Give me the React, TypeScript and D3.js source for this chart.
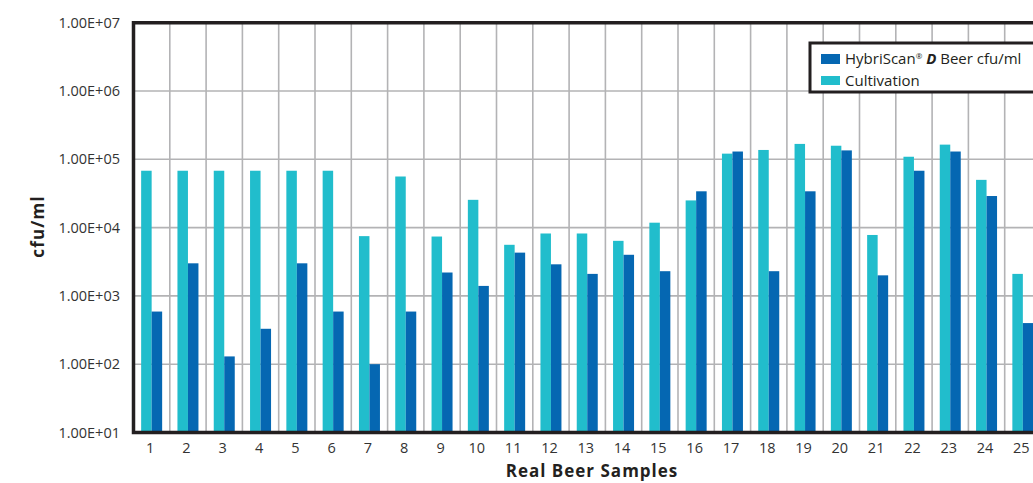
import React from "react";
import * as d3 from "d3";

const samples = ["1","2","3","4","5","6","7","8","9","10","11","12","13","14","15","16","17","18","19","20","21","22","23","24","25"];
const hybriscan = [590, 3000, 130, 330, 3000, 590, 100, 590, 2200, 1400, 4300, 2900, 2100, 4000, 2300, 34000, 130000, 2300, 34000, 135000, 2000, 68000, 130000, 29000, 400];
const cultivation = [68000, 68000, 68000, 68000, 68000, 68000, 7500, 56000, 7400, 25500, 5600, 8200, 8200, 6400, 11800, 25000, 121000, 137000, 168000, 158000, 7800, 109000, 164000, 50000, 2100];
const yTickValues = [1e1, 1e2, 1e3, 1e4, 1e5, 1e6, 1e7];
const yTickLabels = ["1.00E+01","1.00E+02","1.00E+03","1.00E+04","1.00E+05","1.00E+06","1.00E+07"];
const seriesKeys = ["Cultivation", "HybriScan"];

const W = 1033, H = 483;
const left = 133.5, top = 22.7, bottom = 432.5;
const band = 36.3;
const right = left + band * samples.length;
const CYAN = "#21bdcc", BLUE = "#0567b2", FRAME = "#231f20", GRID = "#b3b3b5";
const FONT = "'Open Sans', 'Liberation Sans', sans-serif";

export default function App() {
  const x = d3.scaleBand<string>().domain(samples).range([left, right]).paddingInner(0).paddingOuter(0);
  const xs = d3.scaleBand<string>().domain(seriesKeys).range([0, 21]);
  const y = d3.scaleLog().domain([1e1, 1e7]).range([bottom, top]);
  const bw = xs.bandwidth();
  const off = (x.bandwidth() - 21) / 2;

  return (
    <svg width={W} height={H} style={{ position: "absolute", left: 0, top: 0, background: "#fff" }} fontFamily={FONT}>
      <rect x={0} y={0} width={W} height={H} fill="#fff" />
      {/* vertical grid */}
      {samples.map((s, i) => i > 0 ? (
        <line key={"vg" + s} x1={x(s)!} x2={x(s)!} y1={top} y2={bottom} stroke={GRID} strokeWidth={1.6} />
      ) : null)}
      {/* horizontal grid */}
      {yTickValues.map((v) => (
        <line key={"hg" + v} x1={left} x2={right} y1={y(v)} y2={y(v)} stroke={GRID} strokeWidth={1.6} />
      ))}
      {/* bars */}
      {samples.map((s, i) => (
        <g key={"b" + s}>
          <rect x={x(s)! + off + xs("Cultivation")!} y={y(cultivation[i])} width={bw} height={bottom - y(cultivation[i])} fill={CYAN} />
          <rect x={x(s)! + off + xs("HybriScan")!} y={y(hybriscan[i])} width={bw} height={bottom - y(hybriscan[i])} fill={BLUE} />
        </g>
      ))}
      {/* frame */}
      <path d={`M${right},${top} H${left} V${bottom} H${right}`} fill="none" stroke={FRAME} strokeWidth={3.5} />
      {/* y tick labels */}
      {yTickValues.map((v, i) => (
        <text key={"yl" + v} x={120} y={y(v)} dy="0.35em" textAnchor="end" fontSize={14.5} fill="#333">{yTickLabels[i]}</text>
      ))}
      {/* x tick labels */}
      {samples.map((s) => (
        <text key={"xl" + s} x={x(s)! + x.bandwidth() / 2 - 1.5} y={453} textAnchor="middle" fontSize={14.5} fill="#333">{s}</text>
      ))}
      {/* axis titles */}
      <text transform={`translate(44,${226.5}) rotate(-90)`} textAnchor="middle" fontSize={17} fontWeight="bold" letterSpacing={1.2} fill="#231f20">cfu/ml</text>
      <text x={592} y={477} textAnchor="middle" fontSize={17} fontWeight="bold" letterSpacing={1} fill="#231f20">Real Beer Samples</text>
      {/* legend */}
      <rect x={810} y={43} width={240} height={49} fill="#fff" stroke={FRAME} strokeWidth={3} />
      <rect x={821} y={54} width={19} height={10} fill={BLUE} />
      <rect x={821} y={76} width={19} height={9} fill={CYAN} />
      <text x={845} y={64} fontSize={15} fill="#231f20">
        HybriScan<tspan fontSize={8} dy={-5}>®</tspan><tspan dy={5}> </tspan><tspan fontWeight="bold" fontStyle="italic">D</tspan> Beer cfu/ml
      </text>
      <text x={845} y={86} fontSize={15} fill="#231f20">Cultivation</text>
    </svg>
  );
}
